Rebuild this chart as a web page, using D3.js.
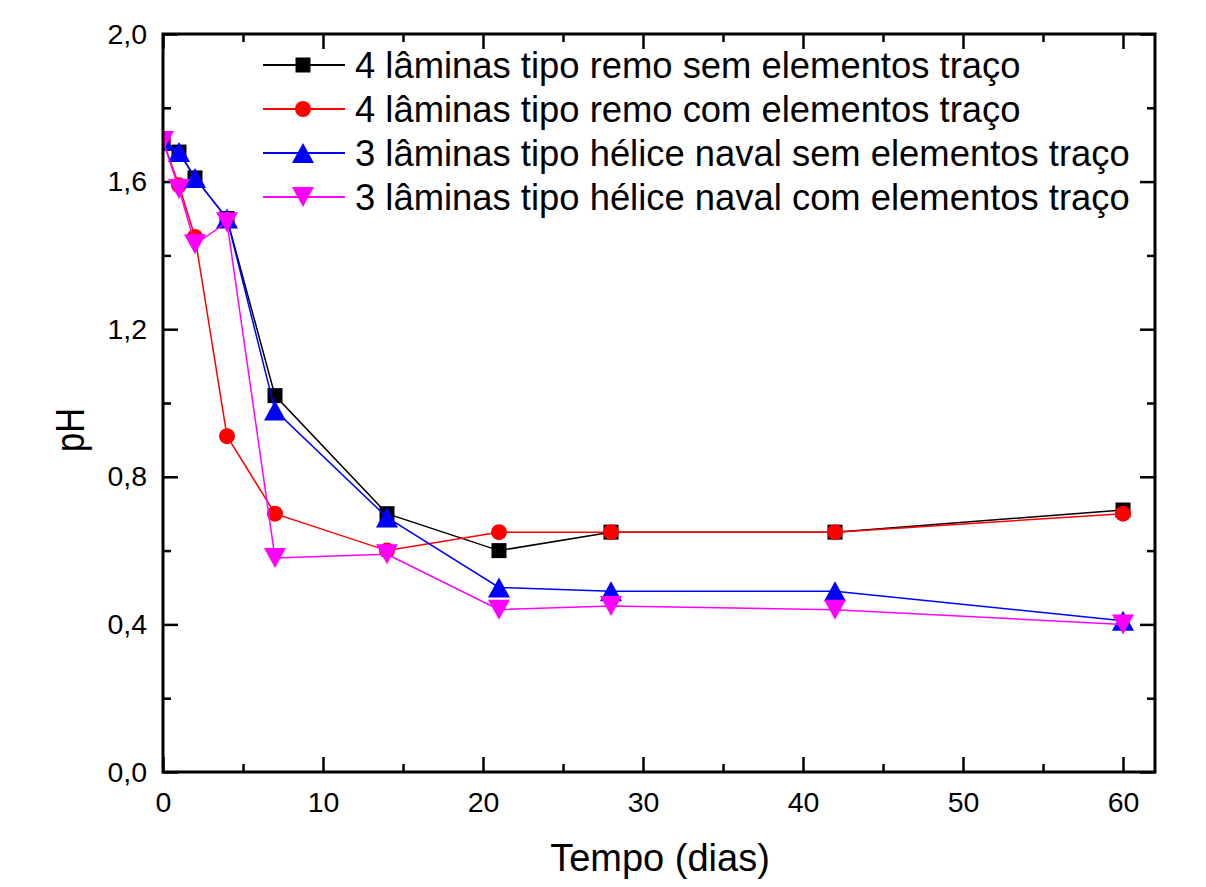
<!DOCTYPE html>
<html>
<head>
<meta charset="utf-8">
<script src="https://cdn.jsdelivr.net/npm/d3@7"></script>
<style>
  html, body { margin: 0; padding: 0; background: #fff; }
  svg { display: block; }
  text { font-family: "Liberation Sans", Arial, Helvetica, sans-serif; fill: #000; }
</style>
</head>
<body>
<svg id="chart" width="1206" height="887"></svg>
<script>
// ---- data ----
const days = [0, 1, 2, 4, 7, 14, 21, 28, 42, 60];
const remoSem   = [1.71, 1.68, 1.61, 1.50, 1.02, 0.70, 0.60, 0.65, 0.65, 0.71];
const remoCom   = [1.71, 1.59, 1.45, 0.91, 0.70, 0.60, 0.65, 0.65, 0.65, 0.70];
const heliceSem = [1.71, 1.68, 1.61, 1.50, 0.98, 0.69, 0.50, 0.49, 0.49, 0.41];
const heliceCom = [1.71, 1.58, 1.43, 1.49, 0.58, 0.59, 0.44, 0.45, 0.44, 0.40];
const seriesNames = [
  "4 lâminas tipo remo sem elementos traço",
  "4 lâminas tipo remo com elementos traço",
  "3 lâminas tipo hélice naval sem elementos traço",
  "3 lâminas tipo hélice naval com elementos traço"
];
const xTicks = [0, 10, 20, 30, 40, 50, 60];
const xMinorTicks = [5, 15, 25, 35, 45, 55];
const yTicks = [0, 0.4, 0.8, 1.2, 1.6, 2.0];
const yMinorTicks = [0.2, 0.6, 1.0, 1.4, 1.8];
const xLabel = "Tempo (dias)";
const yLabel = "pH";

// ---- styles ----
const colors = ["#000000", "#ff0000", "#0000ff", "#ff00ff"];
const shapes = ["square", "circle", "triUp", "triDown"];
const seriesValues = [remoSem, remoCom, heliceSem, heliceCom];

const svg = d3.select("#chart");
const L = 163, R = 1155, T = 34, B = 772;
const x = d3.scaleLinear().domain([0, 62]).range([L, R]);
const y = d3.scaleLinear().domain([0, 2]).range([B, T]);
const fmt = d => d3.format(".1f")(d).replace(".", ",");

// white background
svg.append("rect").attr("width", 1206).attr("height", 887).attr("fill", "#fff");

function styleAxis(g) {
  g.select(".domain").remove();
  g.selectAll(".tick line").attr("stroke", "#000").attr("stroke-width", 2.5);
  g.selectAll(".tick text").style("font-size", "28.5px").attr("fill", "#000");
}

// bottom
svg.append("g").attr("transform", `translate(0,${B})`)
  .call(d3.axisBottom(x).tickValues(xTicks).tickSize(-15).tickPadding(20).tickFormat(d3.format("d")))
  .call(styleAxis);
svg.append("g").attr("transform", `translate(0,${B})`)
  .call(d3.axisBottom(x).tickValues(xMinorTicks).tickSize(-8).tickFormat(""))
  .call(styleAxis);
// top
svg.append("g").attr("transform", `translate(0,${T})`)
  .call(d3.axisTop(x).tickValues(xTicks).tickSize(-15).tickFormat(""))
  .call(styleAxis);
svg.append("g").attr("transform", `translate(0,${T})`)
  .call(d3.axisTop(x).tickValues(xMinorTicks).tickSize(-8).tickFormat(""))
  .call(styleAxis);
// left
svg.append("g").attr("transform", `translate(${L},0)`)
  .call(d3.axisLeft(y).tickValues(yTicks).tickSize(-15).tickPadding(16).tickFormat(fmt))
  .call(styleAxis);
svg.append("g").attr("transform", `translate(${L},0)`)
  .call(d3.axisLeft(y).tickValues(yMinorTicks).tickSize(-8).tickFormat(""))
  .call(styleAxis);
// right
svg.append("g").attr("transform", `translate(${R},0)`)
  .call(d3.axisRight(y).tickValues(yTicks).tickSize(-15).tickFormat(""))
  .call(styleAxis);
svg.append("g").attr("transform", `translate(${R},0)`)
  .call(d3.axisRight(y).tickValues(yMinorTicks).tickSize(-8).tickFormat(""))
  .call(styleAxis);

// clip for plot area
svg.append("clipPath").attr("id", "plotclip")
  .append("rect").attr("x", L).attr("y", T).attr("width", R - L).attr("height", B - T);

// markers
function markerPath(shape, cx, cy) {
  if (shape === "square") {
    const s = 7.5;
    return `M${cx - s},${cy - s}H${cx + s}V${cy + s}H${cx - s}Z`;
  }
  if (shape === "circle") {
    const r = 8;
    return `M${cx - r},${cy}A${r},${r} 0 1,0 ${cx + r},${cy}A${r},${r} 0 1,0 ${cx - r},${cy}Z`;
  }
  const w = 11, h = 10;
  if (shape === "triUp") {
    return `M${cx},${cy - h}L${cx + w},${cy + h}L${cx - w},${cy + h}Z`;
  }
  return `M${cx},${cy + h}L${cx + w},${cy - h}L${cx - w},${cy - h}Z`;
}

const line = d3.line().x(d => x(d[0])).y(d => y(d[1]));
const plot = svg.append("g").attr("clip-path", "url(#plotclip)");
seriesValues.forEach((vals, i) => {
  const pts = days.map((d, j) => [d, vals[j]]);
  const g = plot.append("g");
  g.append("path").attr("d", line(pts)).attr("fill", "none")
    .attr("stroke", colors[i]).attr("stroke-width", 1.5);
  g.selectAll("path.m").data(pts).enter().append("path").attr("class", "m")
    .attr("d", d => markerPath(shapes[i], x(d[0]), y(d[1])))
    .attr("fill", colors[i]);
});

// frame
svg.append("rect").attr("x", L).attr("y", T).attr("width", R - L).attr("height", B - T)
  .attr("fill", "none").attr("stroke", "#000").attr("stroke-width", 3);

// legend
const legRows = [65, 109, 153, 197];
seriesNames.forEach((name, i) => {
  const ly = legRows[i];
  svg.append("line").attr("x1", 263).attr("x2", 345).attr("y1", ly).attr("y2", ly)
    .attr("stroke", colors[i]).attr("stroke-width", 2);
  svg.append("path").attr("d", markerPath(shapes[i], 303, ly)).attr("fill", colors[i]);
  svg.append("text").attr("x", 355).attr("y", ly + 13).style("font-size", "36.4px").text(name);
});

// axis titles
svg.append("text").attr("x", (L + R) / 2 + 1).attr("y", 871).attr("text-anchor", "middle")
  .style("font-size", "38px").text(xLabel);
svg.append("text").attr("transform", "translate(84,430) rotate(-90)")
  .attr("text-anchor", "middle").style("font-size", "40px")
  .attr("textLength", 44).attr("lengthAdjust", "spacingAndGlyphs").text(yLabel);
</script>
</body>
</html>
